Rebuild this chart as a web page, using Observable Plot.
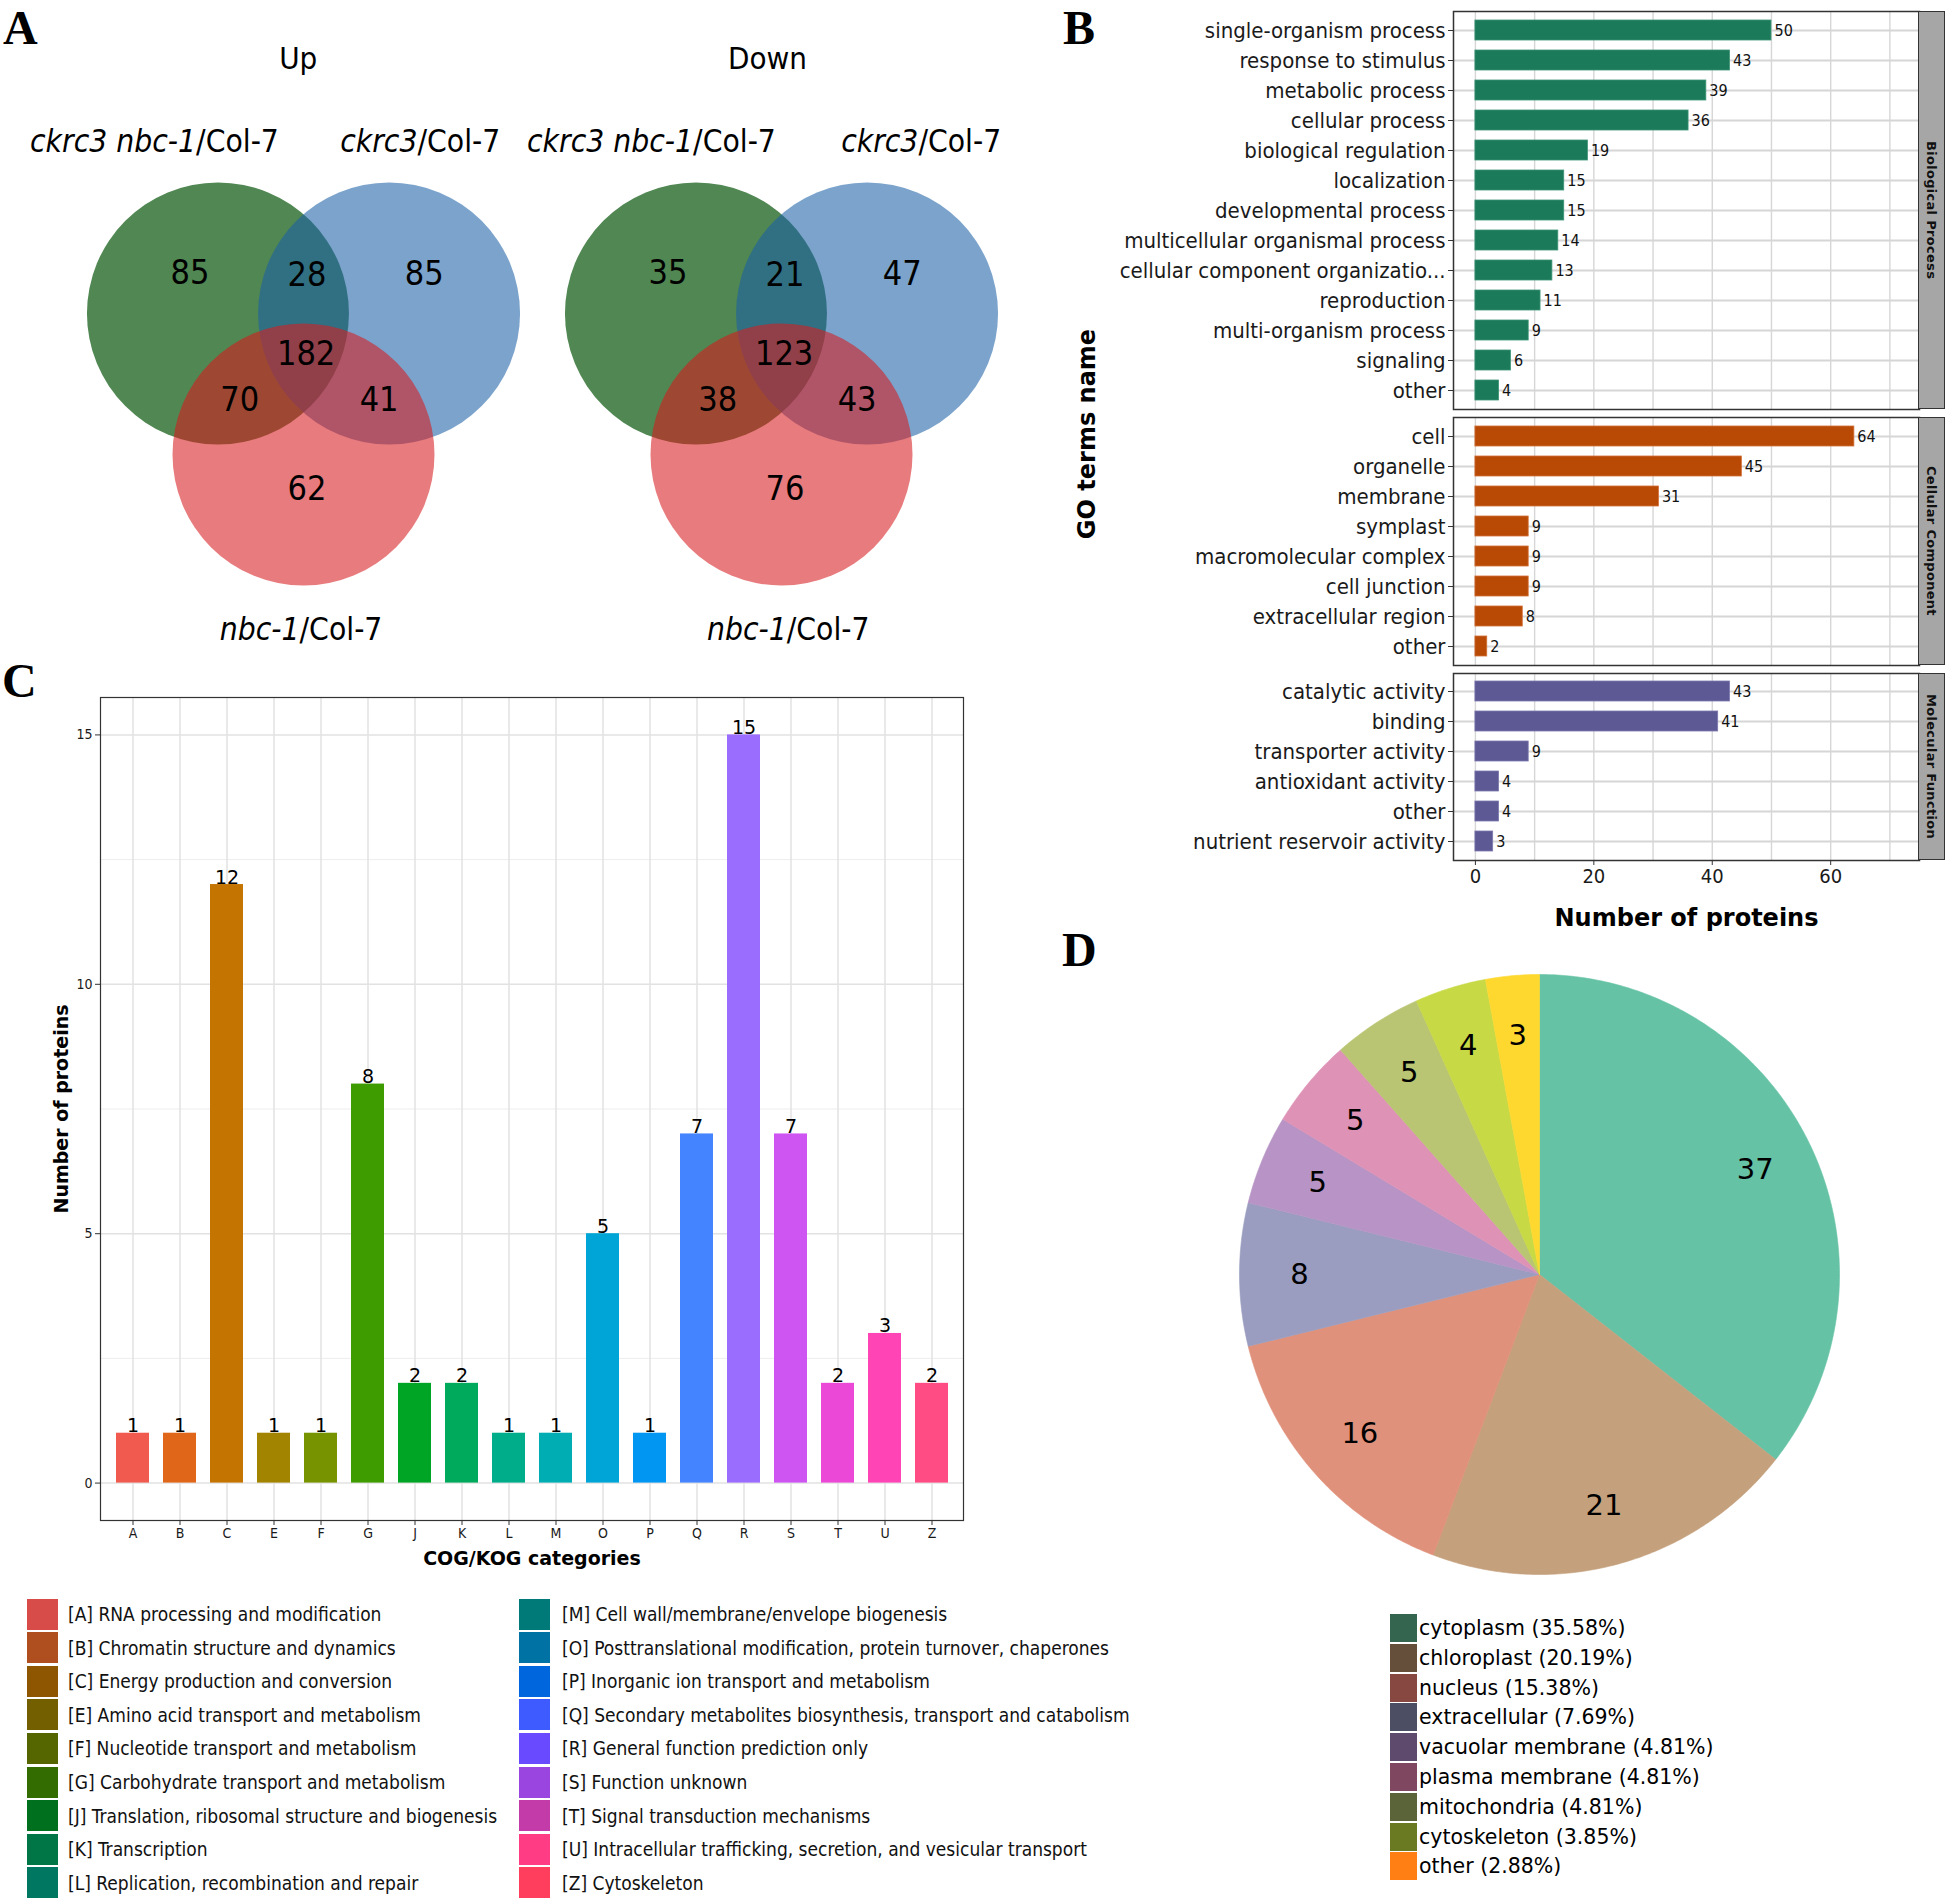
<!DOCTYPE html>
<html>
<head>
<meta charset="utf-8">
<script src="https://cdn.jsdelivr.net/npm/d3@7"></script>
<script src="https://cdn.jsdelivr.net/npm/@observablehq/plot@0.6"></script>
<style>
  body { margin: 0; background: #fff; }
  #fig { position: relative; width: 1946px; height: 1902px; overflow: hidden; background: #fff; font-family: "DejaVu Sans", sans-serif; }
  #fig svg { overflow: visible; }
  .letter { position: absolute; font-family: "Liberation Serif", "Times New Roman", serif; font-weight: bold; font-size: 48px; line-height: 40px; color: #000; }
  .strip { position: absolute; box-sizing: border-box; background: #a6a6a6; border: 1.5px solid #333; display: flex; align-items: center; justify-content: center; }
  .strip span { writing-mode: vertical-rl; font: bold 13px "DejaVu Sans", sans-serif; letter-spacing: 0.3px; color: #111; white-space: nowrap; }
  .rot { position: absolute; transform: translate(-50%, -50%) rotate(-90deg); white-space: nowrap; font-weight: bold; color: #000; }
  .leg-row { position: absolute; display: flex; align-items: center; white-space: nowrap; }
  .leg-sw { flex: none; }
</style>
</head>
<body>
<div id="fig"></div>
<script>
// ---------------- DATA ----------------
// A: Venn diagrams
const vennGroups = ["Up", "Down"];
const vennSets = ["ckrc3 nbc-1/Col-7", "ckrc3/Col-7", "nbc-1/Col-7"];
const vennRegions = ["100", "110", "010", "111", "101", "011", "001"];
const vennUp = [85, 28, 85, 182, 70, 41, 62];
const vennDown = [35, 21, 47, 123, 38, 43, 76];

// B: GO terms
const goCategories = ["Biological Process", "Cellular Component", "Molecular Function"];
const bpTerms = ["single-organism process", "response to stimulus", "metabolic process", "cellular process", "biological regulation", "localization", "developmental process", "multicellular organismal process", "cellular component organizatio...", "reproduction", "multi-organism process", "signaling", "other"];
const bpCounts = [50, 43, 39, 36, 19, 15, 15, 14, 13, 11, 9, 6, 4];
const ccTerms = ["cell", "organelle", "membrane", "symplast", "macromolecular complex", "cell junction", "extracellular region", "other"];
const ccCounts = [64, 45, 31, 9, 9, 9, 8, 2];
const mfTerms = ["catalytic activity", "binding", "transporter activity", "antioxidant activity", "other", "nutrient reservoir activity"];
const mfCounts = [43, 41, 9, 4, 4, 3];
const goTicks = [0, 20, 40, 60];

// C: COG/KOG
const cogCats = ["A", "B", "C", "E", "F", "G", "J", "K", "L", "M", "O", "P", "Q", "R", "S", "T", "U", "Z"];
const cogCounts = [1, 1, 12, 1, 1, 8, 2, 2, 1, 1, 5, 1, 7, 15, 7, 2, 3, 2];
const cogNames = ["RNA processing and modification", "Chromatin structure and dynamics", "Energy production and conversion", "Amino acid transport and metabolism", "Nucleotide transport and metabolism", "Carbohydrate transport and metabolism", "Translation, ribosomal structure and biogenesis", "Transcription", "Replication, recombination and repair", "Cell wall/membrane/envelope biogenesis", "Posttranslational modification, protein turnover, chaperones", "Inorganic ion transport and metabolism", "Secondary metabolites biosynthesis, transport and catabolism", "General function prediction only", "Function unknown", "Signal transduction mechanisms", "Intracellular trafficking, secretion, and vesicular transport", "Cytoskeleton"];
const cogTicks = [0, 5, 10, 15];

// D: subcellular localization
const locNames = ["cytoplasm", "chloroplast", "nucleus", "extracellular", "vacuolar membrane", "plasma membrane", "mitochondria", "cytoskeleton", "other"];
const locCounts = [37, 21, 16, 8, 5, 5, 5, 4, 3];

// ---------------- STYLES / PALETTES ----------------
const vennFill = ["#508752", "#1C61A6", "#D71C1F"];
const vennAlpha = [1, 0.58, 0.58];
const goColors = ["#1B7A5A", "#B84A05", "#5D5994"];
const goStroke = ["#3E9576", "#D2703A", "#7D79AE"];
const cogBarColors = ["#F15B4F", "#E0661A", "#C47400", "#A38400", "#789300", "#3F9C00", "#00A526", "#00AA5C", "#00AD8B", "#00ADB3", "#00A5D7", "#0096F2", "#4484FF", "#9B6DFF", "#CF55F3", "#EC48D8", "#FF45B6", "#FF4C84"];
const cogLegendColors = ["#D74B48", "#AF4F1F", "#8E5600", "#735E00", "#556500", "#336C00", "#00701F", "#007545", "#007761", "#007A78", "#0072A3", "#0066DD", "#3E5BFF", "#6A4AFF", "#9A45E0", "#C23BA8", "#FF3C84", "#FF3E5E"];
const pieColors = ["#66C2A5", "#C4A07C", "#E0917B", "#9A9DBF", "#B794C5", "#DE92B5", "#B9C572", "#C8D946", "#FED82F"];
const pieLegendColors = ["#34654F", "#654E3A", "#864840", "#4C4E63", "#5E4A6D", "#7F4860", "#5B6438", "#6A7A22", "#FF7F14"];

const fontCond = "'DejaVu Sans Condensed', 'DejaVu Sans', sans-serif";
const fontNarrow = "'Liberation Sans Narrow', 'Arial Narrow', 'DejaVu Sans Condensed', sans-serif";

// Venn layout (radius units, relative to each diagram's centroid)
const vennCircleLayout = [[-0.653, -0.359], [0.653, -0.359], [0, 0.718]];
const vennRegionLayout = {"100": [-0.866, -0.664], "110": [0.027, -0.649], "010": [0.921, -0.66], "111": [0.02, -0.05], "101": [-0.487, 0.30], "011": [0.577, 0.305], "001": [0.027, 0.985]};
const vennLabelLayout = {
  Up: [[-0.82, -1.67], [0.87, -1.67], [-0.03, 2.06]],
  Down: [[-0.675, -1.67], [1.045, -1.67], [0.04, 2.06]]
};
const vennTitleLayout = {Up: [-0.04, -2.30], Down: [-0.107, -2.30]};

const fig = document.getElementById("fig");
function place(node, left, top) {
  const d = document.createElement("div");
  d.style.position = "absolute"; d.style.left = left + "px"; d.style.top = top + "px";
  d.appendChild(node); fig.appendChild(d); return d;
}
function html(cls, text, css) {
  const d = document.createElement("div");
  d.className = cls; d.textContent = text; Object.assign(d.style, css); fig.appendChild(d); return d;
}

// ---------------- A: Venn ----------------
{
  const R = 131;
  const panelW = 478;
  const rowsRegions = vennGroups.flatMap((g, gi) => vennRegions.map((code, i) => ({group: g, code, n: (gi === 0 ? vennUp : vennDown)[i]})));
  const circles = vennGroups.flatMap(g => vennSets.map((s, i) => ({group: g, idx: i})));
  const setLabels = vennGroups.flatMap(g => vennSets.map((s, i) => {
    const k = s.indexOf("/");
    return {group: g, idx: i, it: s.slice(0, k), up: s.slice(k)};
  }));
  const half = panelW / 2 / R;
  const lx = d => vennLabelLayout[d.group][d.idx][0];
  const ly = d => vennLabelLayout[d.group][d.idx][1];
  const chart = Plot.plot({
    width: 64 + 2 * panelW, height: 660,
    marginLeft: 64, marginRight: 0, marginTop: 0, marginBottom: 0,
    style: {background: "transparent", color: "#000"},
    fx: {domain: vennGroups, padding: 0, axis: null},
    x: {domain: [-half, half], axis: null},
    y: {domain: [-360 / R, 300 / R], reverse: true, axis: null},
    marks: [
      ...[0, 1, 2].map(k => Plot.dot(circles.filter(d => d.idx === k), {
        fx: "group", x: d => vennCircleLayout[d.idx][0], y: d => vennCircleLayout[d.idx][1],
        r: R, fill: vennFill[k], fillOpacity: vennAlpha[k], stroke: "none"
      })),
      Plot.text(rowsRegions, {fx: "group", x: d => vennRegionLayout[d.code][0], y: d => vennRegionLayout[d.code][1], text: d => String(d.n), fontSize: 34, fontFamily: fontNarrow, fill: "#000"}),
      Plot.text(setLabels, {fx: "group", x: lx, y: ly, text: "it", textAnchor: "end", fontStyle: "italic", fontSize: 31.5, fontFamily: fontNarrow, fill: "#000"}),
      Plot.text(setLabels, {fx: "group", x: lx, y: ly, text: "up", textAnchor: "start", fontSize: 31.5, fontFamily: fontNarrow, fill: "#000"}),
      Plot.text(vennGroups, {fx: d => d, x: d => vennTitleLayout[d][0], y: d => vennTitleLayout[d][1], text: d => d, fontSize: 31, fontFamily: fontNarrow, fill: "#000"})
    ]
  });
  place(chart, 0, 0);
}

// ---------------- B: GO panels ----------------
function goPanel(terms, counts, k, top, height, marginTop, marginBottom, showX) {
  const rows = terms.map((t, i) => ({term: t, n: counts[i]}));
  const marks = [
    Plot.gridX({ticks: d3.range(0, 80, 10), stroke: "#d6d6d6", strokeOpacity: 1, strokeWidth: 1.4}),
    Plot.gridY({stroke: "#d6d6d6", strokeOpacity: 1, strokeWidth: 1.8}),
    Plot.barX(rows, {x: "n", y: "term", fill: goColors[k], stroke: goStroke[k], strokeWidth: 0.8}),
    Plot.text(rows, {x: "n", y: "term", text: d => String(d.n), textAnchor: "start", dx: 3, fontSize: 16, fontFamily: fontCond, fill: "#111"}),
    Plot.axisY({tickSize: 5, tickPadding: 3, fontSize: 22, fontFamily: fontCond, label: null, stroke: "#333"}),
    Plot.frame({stroke: "#333", strokeWidth: 1.5})
  ];
  if (showX) {
    marks.push(Plot.axisX({ticks: goTicks, tickSize: 5, tickPadding: 3, fontSize: 20, fontFamily: fontCond, label: null, stroke: "#333"}));
    marks.push(Plot.text(["Number of proteins"], {frameAnchor: "bottom", lineAnchor: "middle", dy: 58, text: d => d, fontSize: 24, fontWeight: "bold", fontFamily: "'DejaVu Sans', sans-serif", fill: "#000"}));
  }
  const chart = Plot.plot({
    width: 906, height, marginLeft: 413, marginRight: 27, marginTop, marginBottom,
    style: {background: "transparent", color: "#1a1a1a"},
    x: {domain: [-3.7, 75], axis: null},
    y: {type: "band", domain: terms, paddingInner: 0.33, paddingOuter: 0.257, axis: null},
    marks
  });
  place(chart, 1040, top);
  // facet strip
  const s = document.createElement("div");
  s.className = "strip";
  Object.assign(s.style, {left: "1918px", top: (top + marginTop) + "px", width: "27px", height: (height - marginTop - marginBottom) + "px"});
  const sp = document.createElement("span"); sp.textContent = goCategories[k]; s.appendChild(sp);
  fig.appendChild(s);
}
goPanel(bpTerms, bpCounts, 0, 0, 411, 11, 2, false);
goPanel(ccTerms, ccCounts, 1, 411, 256, 6, 2, false);
goPanel(mfTerms, mfCounts, 2, 667, 293, 6, 100, true);
html("rot", "GO terms name", {left: "1087px", top: "434px", fontSize: "24px", fontFamily: "'DejaVu Sans', sans-serif"});

// ---------------- C: COG/KOG ----------------
{
  const rows = cogCats.map((c, i) => ({cat: c, n: cogCounts[i], color: cogBarColors[i]}));
  const chart = Plot.plot({
    width: 980, height: 920, marginLeft: 100, marginRight: 17, marginTop: 37, marginBottom: 60,
    style: {background: "transparent", color: "#1a1a1a"},
    x: {type: "band", domain: cogCats, paddingInner: 0.3, paddingOuter: 0.247, axis: null},
    y: {domain: [-0.75, 15.75], axis: null},
    color: {type: "identity"},
    marks: [
      Plot.gridY([2.5, 7.5, 12.5], {stroke: "#ebebeb", strokeOpacity: 1, strokeWidth: 0.9}),
      Plot.gridY(cogTicks, {stroke: "#e2e2e2", strokeOpacity: 1, strokeWidth: 1.5}),
      Plot.gridX({stroke: "#e2e2e2", strokeOpacity: 1, strokeWidth: 1.5}),
      Plot.barY(rows, {x: "cat", y: "n", fill: "color"}),
      Plot.text(rows, {x: "cat", y: "n", text: d => String(d.n), lineAnchor: "bottom", dy: -1, fontSize: 19, fontFamily: "'DejaVu Sans', sans-serif", fill: "#000"}),
      Plot.axisY({ticks: cogTicks, tickSize: 5, tickPadding: 3, fontSize: 14, fontFamily: fontCond, label: null, stroke: "#333"}),
      Plot.axisX({tickSize: 5, tickPadding: 3, fontSize: 14, fontFamily: fontCond, label: null, stroke: "#333"}),
      Plot.frame({stroke: "#333", strokeWidth: 1.2}),
      Plot.text(["COG/KOG categories"], {frameAnchor: "bottom", lineAnchor: "middle", dy: 38, text: d => d, fontSize: 19, fontWeight: "bold", fontFamily: "'DejaVu Sans', sans-serif", fill: "#000"}),
      Plot.text(["Number of proteins"], {frameAnchor: "left", textAnchor: "middle", lineAnchor: "middle", dx: -39, rotate: -90, text: d => d, fontSize: 19, fontWeight: "bold", fontFamily: "'DejaVu Sans', sans-serif", fill: "#000"})
    ]
  });
  place(chart, 0, 660);

  // legend (two columns)
  cogCats.forEach((c, i) => {
    const col = i < 9 ? 0 : 1, row = i % 9;
    const r = document.createElement("div");
    r.className = "leg-row";
    Object.assign(r.style, {left: (col ? 519 : 27) + "px", top: (1598.5 + row * 33.6) + "px", height: "31px"});
    const sw = document.createElement("div");
    sw.className = "leg-sw";
    Object.assign(sw.style, {width: "31px", height: "31px", background: cogLegendColors[i]});
    const t = document.createElement("div");
    t.textContent = "[" + c + "] " + cogNames[i];
    Object.assign(t.style, {marginLeft: (col ? 12 : 10) + "px", fontFamily: fontCond, fontSize: "19px", color: "#111"});
    r.appendChild(sw); r.appendChild(t); fig.appendChild(r);
  });
}

// ---------------- D: Pie ----------------
{
  const total = d3.sum(locCounts);
  const arcs = d3.pie().sort(null).value(d => d)(locCounts);
  const pts = [];
  arcs.forEach((a, i) => {
    const name = locNames[i];
    pts.push({name, color: pieColors[i], x: 0, y: 0});
    const steps = Math.max(4, Math.ceil((a.endAngle - a.startAngle) / 0.01));
    for (let s = 0; s <= steps; s++) {
      const t = a.startAngle + (a.endAngle - a.startAngle) * s / steps;
      pts.push({name, color: pieColors[i], x: Math.sin(t), y: Math.cos(t)});
    }
    pts.push({name, color: pieColors[i], x: 0, y: 0});
  });
  const labels = arcs.map((a, i) => {
    const m = (a.startAngle + a.endAngle) / 2;
    return {n: locCounts[i], x: 0.8 * Math.sin(m), y: 0.8 * Math.cos(m)};
  });
  const chart = Plot.plot({
    width: 680, height: 680, marginLeft: 39, marginRight: 41, marginTop: 34, marginBottom: 46,
    style: {background: "transparent"},
    x: {domain: [-1, 1], axis: null},
    y: {domain: [-1, 1], axis: null},
    color: {type: "identity"},
    marks: [
      Plot.line(pts, {x: "x", y: "y", z: "name", fill: "color", stroke: "color", strokeWidth: 0.6, curve: "linear"}),
      Plot.text(labels, {x: "x", y: "y", text: d => String(d.n), fontSize: 29, fontFamily: "'DejaVu Sans', sans-serif", fill: "#000"})
    ]
  });
  place(chart, 1200, 940);

  locNames.forEach((nm, i) => {
    const r = document.createElement("div");
    r.className = "leg-row";
    Object.assign(r.style, {left: "1390px", top: (1614 + i * 29.8) + "px", height: "28px"});
    const sw = document.createElement("div");
    sw.className = "leg-sw";
    Object.assign(sw.style, {width: "27px", height: "28px", background: pieLegendColors[i]});
    const t = document.createElement("div");
    t.textContent = nm + " (" + (locCounts[i] / total * 100).toFixed(2) + "%)";
    Object.assign(t.style, {marginLeft: "2px", fontFamily: "'DejaVu Sans', sans-serif", fontSize: "20.5px", color: "#000"});
    r.appendChild(sw); r.appendChild(t); fig.appendChild(r);
  });
}

// ---------------- panel letters ----------------
[["A", 3, 7.5], ["B", 1063, 8], ["C", 2, 661], ["D", 1062, 930]].forEach(([t, l, tp]) => {
  html("letter", t, {left: l + "px", top: tp + "px"});
});
</script>
</body>
</html>
